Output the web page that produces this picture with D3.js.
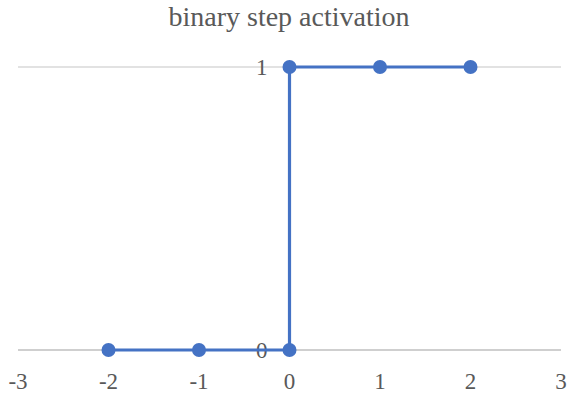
<!DOCTYPE html>
<html><head><meta charset="utf-8">
<script src="https://cdn.jsdelivr.net/npm/d3@7"></script>
</head><body style="margin:0">
<svg id="chart" width="567" height="393" style="position:absolute;left:0;top:0"></svg>
<script>
const xValues = [-2, -1, 0, 0, 1, 2];
const yValues = [0, 0, 0, 1, 1, 1];
const xTicks = [-3, -2, -1, 0, 1, 2, 3];
const yTicks = [0, 1];
const title = "binary step activation";

const FSTYLE = "font-family:'Times New Roman','Liberation Serif',serif;";
const svg = d3.select("#chart");
const x = d3.scaleLinear().domain([-3, 3]).range([18, 561]);
const y = d3.scaleLinear().domain([0, 1]).range([350, 67]);

svg.append("text").attr("x", 289).attr("y", 26).attr("text-anchor", "middle")
  .attr("style", FSTYLE + "font-size:28px").attr("fill", "#595959").text(title);

// gridlines
svg.append("g").selectAll("line").data(yTicks).join("line")
  .attr("x1", x(-3)).attr("x2", x(3)).attr("y1", d => y(d)).attr("y2", d => y(d))
  .attr("stroke", d => d === 0 ? "#bfbfbf" : "#d9d9d9").attr("stroke-width", 1.3);

// x tick labels
svg.append("g").selectAll("text").data(xTicks).join("text")
  .attr("x", d => x(d)).attr("y", y(0) + 39).attr("text-anchor", "middle")
  .attr("style", FSTYLE + "font-size:23px").attr("fill", "#595959")
  .text(d => String(d));

// y tick labels next to x = 0
svg.append("g").selectAll("text").data(yTicks).join("text")
  .attr("x", x(0) - 22).attr("y", d => y(d) + 8).attr("text-anchor", "end")
  .attr("style", FSTYLE + "font-size:23px").attr("fill", "#595959")
  .text(d => String(d));

const pts = xValues.map((v, i) => [v, yValues[i]]);
svg.append("path").datum(pts)
  .attr("d", d3.line().x(d => x(d[0])).y(d => y(d[1])))
  .attr("fill", "none").attr("stroke", "#4472C4").attr("stroke-width", 3.2).attr("stroke-linejoin", "round");
svg.append("g").selectAll("circle").data(pts).join("circle")
  .attr("cx", d => x(d[0])).attr("cy", d => y(d[1])).attr("r", 7).attr("fill", "#4472C4");
</script>
</body></html>
